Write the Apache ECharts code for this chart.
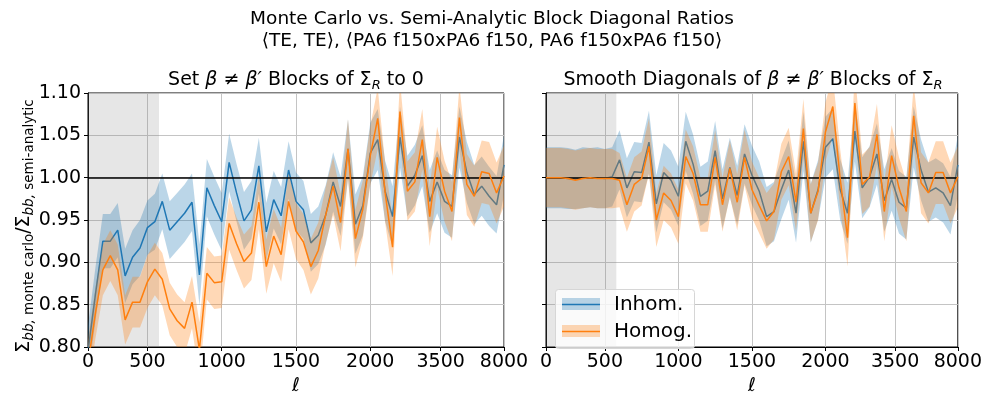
<!DOCTYPE html>
<html>
<head>
<meta charset="utf-8">
<script src="https://cdn.jsdelivr.net/npm/echarts@6/dist/echarts.min.js"></script>
<style>html,body{margin:0;padding:0;background:#fff}#c{width:985px;height:401px}</style>
</head>
<body>
<div id="c"></div>
<script>
// x axis: bin index; tick labels in ell
const tickPositions = [0, 8, 18, 28, 38, 47.47, 56];
const tickLabels = ['0', '500', '1000', '1500', '2000', '3500', '8000'];
const shadeEnd = 9.56;

// Left panel: "Set beta != beta' Blocks of Sigma_R to 0"
const leftInhomMean = [0.795,0.862,0.925,0.925,0.938,0.884,0.906,0.917,0.941,0.948,0.972,0.938,0.948,0.958,0.971,0.885,0.988,0.967,0.948,1.018,0.982,0.949,0.962,1.014,0.936,0.974,0.955,1.009,0.972,0.962,0.923,0.932,0.956,0.995,0.966,1.034,0.945,0.967,1.029,1.045,0.984,0.954,1.048,0.990,1.003,1.026,0.972,0.995,0.972,0.966,1.048,1.006,0.980,0.990,0.978,0.968,1.015];
const leftInhomErr  = [0.030,0.032,0.032,0.032,0.032,0.032,0.032,0.033,0.032,0.033,0.033,0.034,0.034,0.034,0.034,0.036,0.034,0.034,0.034,0.034,0.034,0.034,0.034,0.033,0.034,0.034,0.034,0.034,0.034,0.034,0.034,0.034,0.035,0.035,0.035,0.035,0.035,0.035,0.036,0.036,0.036,0.036,0.036,0.036,0.036,0.036,0.037,0.037,0.037,0.037,0.036,0.036,0.035,0.035,0.035,0.034,0.035];
const leftHomogMean = [0.780,0.840,0.891,0.908,0.891,0.832,0.853,0.853,0.877,0.892,0.880,0.845,0.831,0.822,0.853,0.797,0.887,0.876,0.877,0.946,0.922,0.901,0.911,0.971,0.895,0.931,0.909,0.972,0.937,0.924,0.895,0.914,0.956,0.990,0.947,1.034,0.928,0.963,1.026,1.070,0.982,0.918,1.078,0.984,0.995,1.045,0.954,1.024,0.984,0.960,1.071,0.992,0.978,1.007,1.005,0.982,1.002];
const leftHomogErr  = [0.029,0.030,0.030,0.030,0.030,0.029,0.030,0.030,0.031,0.031,0.031,0.031,0.031,0.031,0.031,0.032,0.031,0.031,0.031,0.031,0.031,0.032,0.032,0.032,0.032,0.032,0.032,0.033,0.033,0.033,0.033,0.033,0.033,0.034,0.034,0.035,0.034,0.034,0.035,0.036,0.035,0.034,0.036,0.035,0.035,0.036,0.035,0.036,0.036,0.035,0.037,0.036,0.036,0.037,0.037,0.036,0.036];

// Right panel: "Smooth Diagonals of beta != beta' Blocks of Sigma_R"
const rightInhomMean = [1.000,1.000,1.000,0.999,0.998,1.000,1.000,1.000,0.999,1.001,1.021,0.988,1.007,1.006,1.042,0.969,1.006,0.997,0.978,1.043,1.016,0.978,0.984,1.032,0.975,1.012,0.979,1.028,1.003,0.984,0.954,0.960,0.986,1.009,0.958,1.043,0.958,0.986,1.036,1.046,0.986,0.958,1.055,0.988,1.001,1.028,0.973,0.998,0.971,0.964,1.048,1.009,0.983,0.988,0.982,0.967,1.015];
const rightInhomErr  = [0.036,0.036,0.036,0.036,0.035,0.036,0.035,0.036,0.035,0.035,0.035,0.035,0.035,0.035,0.037,0.034,0.035,0.035,0.035,0.035,0.035,0.035,0.035,0.035,0.035,0.035,0.035,0.035,0.035,0.035,0.035,0.035,0.035,0.035,0.035,0.035,0.035,0.035,0.036,0.036,0.036,0.036,0.036,0.036,0.036,0.036,0.037,0.037,0.037,0.037,0.036,0.036,0.035,0.035,0.035,0.034,0.035];
const rightHomogMean = [1.000,1.000,1.000,0.999,0.997,0.999,1.000,0.999,0.999,0.999,0.997,0.968,0.992,0.999,1.037,0.950,0.982,0.973,0.954,1.025,1.005,0.968,0.968,1.024,0.968,1.011,0.971,1.024,0.986,0.967,0.949,0.960,1.007,1.025,0.971,1.058,0.958,0.984,1.054,1.084,0.999,0.929,1.088,0.992,1.001,1.051,0.960,1.026,0.988,0.960,1.073,0.994,0.982,1.006,1.006,0.982,1.001];
const rightHomogErr  = [0.035,0.035,0.035,0.035,0.035,0.035,0.035,0.035,0.035,0.035,0.032,0.032,0.032,0.032,0.033,0.032,0.032,0.032,0.032,0.032,0.032,0.032,0.032,0.032,0.032,0.033,0.033,0.033,0.033,0.033,0.033,0.033,0.033,0.034,0.034,0.035,0.034,0.034,0.035,0.036,0.035,0.034,0.036,0.035,0.035,0.036,0.035,0.036,0.036,0.035,0.037,0.036,0.036,0.037,0.037,0.036,0.036];

const seriesNames = ['Inhom.', 'Homog.'];
const BLUE = '#1f77b4', ORANGE = '#ff7f0e';
const BLUE_FILL = 'rgba(31,119,180,0.3)', ORANGE_FILL = 'rgba(255,127,14,0.3)';
const FONT = 'DejaVu Sans';
const FS = 19;

function bandSeries(gi, mean, err, fill, z) {
  const lo = mean.map((m, i) => m - err[i]);
  const hi = mean.map((m, i) => m + err[i]);
  return {
    type: 'custom', xAxisIndex: gi, yAxisIndex: gi, silent: true, z: z,
    data: mean.map((m, i) => [i, lo[i], hi[i]]),
    encode: { x: 0, y: [1, 2] },
    renderItem: function (params, api) {
      if (params.dataIndex !== 0) return null;
      const pts = [];
      for (let i = 0; i < lo.length; i++) pts.push(api.coord([i, lo[i]]));
      for (let i = hi.length - 1; i >= 0; i--) pts.push(api.coord([i, hi[i]]));
      const cs = params.coordSys;
      return {
        type: 'polygon', shape: { points: pts }, style: { fill: fill, stroke: null },
        clipPath: { type: 'rect', shape: { x: cs.x, y: cs.y, width: cs.width, height: cs.height } }
      };
    }
  };
}
function lineSeries(gi, name, mean, color, z) {
  return {
    type: 'line', name: name, xAxisIndex: gi, yAxisIndex: gi, symbol: 'none', silent: true, z: z,
    lineStyle: { color: color, width: 1.5 }, itemStyle: { color: color },
    data: mean.map((m, i) => [i, m])
  };
}
function shadeSeries(gi) {
  return {
    type: 'line', xAxisIndex: gi, yAxisIndex: gi, data: [], silent: true, z: 1,
    markArea: { silent: true, itemStyle: { color: 'rgba(128,128,128,0.2)' }, data: [[{ xAxis: 0 }, { xAxis: shadeEnd }]] }
  };
}
function refLineSeries(gi) {
  return {
    type: 'line', xAxisIndex: gi, yAxisIndex: gi, data: [], silent: true, z: 6,
    markLine: { silent: true, symbol: 'none', label: { show: false }, animation: false,
      lineStyle: { color: '#000', width: 1.5, type: 'solid' }, data: [{ yAxis: 1 }] }
  };
}

function mkX(gi) {
  return {
    type: 'value', gridIndex: gi, min: 0, max: 56,
    axisLine: { show: true, onZero: false, lineStyle: { color: '#000', width: 1 } },
    axisTick: { show: true, customValues: tickPositions, length: 4, lineStyle: { color: '#000' } },
    axisLabel: { customValues: tickPositions, color: '#000', fontSize: FS, fontFamily: FONT, margin: 6,
      formatter: v => tickLabels[tickPositions.indexOf(v)] },
    splitLine: { show: true, lineStyle: { color: '#c4c4c4', width: 1 } },
    name: 'ℓ', nameLocation: 'middle', nameGap: 30,
    nameTextStyle: { fontStyle: 'italic', fontSize: FS, color: '#000', fontFamily: FONT }
  };
}
function mkY(gi, showLabels) {
  return {
    type: 'value', gridIndex: gi, min: 0.8, max: 1.1, interval: 0.05,
    axisLine: { show: true, lineStyle: { color: '#000', width: 1 } },
    axisTick: { show: true, length: 4, lineStyle: { color: '#000' } },
    axisLabel: { show: showLabels, color: '#000', fontSize: FS, fontFamily: FONT, margin: 7,
      formatter: v => v.toFixed(2) },
    splitLine: { show: true, lineStyle: { color: '#c4c4c4', width: 1 } }
  };
}

const series = [
  shadeSeries(0),
  bandSeries(0, leftInhomMean, leftInhomErr, BLUE_FILL, 2),
  lineSeries(0, seriesNames[0], leftInhomMean, BLUE, 3),
  bandSeries(0, leftHomogMean, leftHomogErr, ORANGE_FILL, 4),
  lineSeries(0, seriesNames[1], leftHomogMean, ORANGE, 5),
  refLineSeries(0),
  shadeSeries(1),
  bandSeries(1, rightInhomMean, rightInhomErr, BLUE_FILL, 2),
  lineSeries(1, seriesNames[0], rightInhomMean, BLUE, 3),
  bandSeries(1, rightHomogMean, rightHomogErr, ORANGE_FILL, 4),
  lineSeries(1, seriesNames[1], rightHomogMean, ORANGE, 5),
  refLineSeries(1)
];

const subSt = {
  n: { fontSize: FS, fontFamily: FONT, color: '#000', lineHeight: 24 },
  i: { fontSize: FS, fontFamily: FONT, fontStyle: 'italic', color: '#000', lineHeight: 24 },
  sub: { fontSize: 13, fontFamily: FONT, fontStyle: 'italic', color: '#000', lineHeight: 14, verticalAlign: 'bottom' }
};

const option = {
  animation: false,
  backgroundColor: '#fff',
  grid: [
    { left: 88, top: 93, width: 416, height: 265, show: true, borderColor: '#000', borderWidth: 1, backgroundColor: 'transparent' },
    { left: 546, top: 93, width: 415, height: 265, show: true, borderColor: '#000', borderWidth: 1, backgroundColor: 'transparent' }
  ],
  xAxis: [mkX(0), mkX(1)],
  yAxis: [mkY(0, true), mkY(1, false)],
  series: series,
  graphic: [
    { type: 'text', x: 492, y: 19, style: { text: 'Monte Carlo vs. Semi-Analytic Block Diagonal Ratios', fontSize: 18.5, fontFamily: FONT, fill: '#000', align: 'center', verticalAlign: 'middle' } },
    { type: 'text', x: 492, y: 41, style: { text: '⟨TE, TE⟩, ⟨PA6 f150xPA6 f150, PA6 f150xPA6 f150⟩', fontSize: 18.5, fontFamily: FONT, fill: '#000', align: 'center', verticalAlign: 'middle' } },
    { type: 'text', x: 296, y: 80, style: { text: '{n|Set }{i|β}{n| ≠ }{i|β′}{n| Blocks of Σ}{sub|R}{n| to 0}', rich: subSt, align: 'center', verticalAlign: 'middle' } },
    { type: 'text', x: 753, y: 80, style: { text: '{n|Smooth Diagonals of }{i|β}{n| ≠ }{i|β′}{n| Blocks of Σ}{sub|R}', rich: subSt, align: 'center', verticalAlign: 'middle' } },
    { type: 'text', x: 24, y: 226, rotation: Math.PI / 2,
      style: { text: '{m|Σ}{s|bb,}{r| monte carlo}{m|/Σ}{s|bb,}{r| semi-analytic}', align: 'center', verticalAlign: 'middle',
        rich: {
          m: { fontSize: 19, fontFamily: FONT, color: '#000', lineHeight: 24 },
          s: { fontSize: 13.5, fontFamily: FONT, fontStyle: 'italic', color: '#000', lineHeight: 14, verticalAlign: 'bottom' },
          r: { fontSize: 13.5, fontFamily: FONT, color: '#000', lineHeight: 14, verticalAlign: 'bottom' }
        } } },
    // legend
    { type: 'rect', shape: { x: 555.5, y: 289.5, width: 139, height: 59, r: 3 }, style: { fill: 'rgba(255,255,255,0.8)', stroke: '#d6d6d6', lineWidth: 1 }, z: 100 },
    { type: 'rect', shape: { x: 562, y: 298, width: 38, height: 12 }, style: { fill: BLUE_FILL }, z: 101 },
    { type: 'line', shape: { x1: 562, y1: 304.5, x2: 600, y2: 304.5 }, style: { stroke: BLUE, lineWidth: 1.5 }, z: 102 },
    { type: 'text', x: 614, y: 304.5, style: { text: seriesNames[0], fontSize: 20, fontFamily: FONT, fill: '#000', verticalAlign: 'middle' }, z: 102 },
    { type: 'rect', shape: { x: 562, y: 325, width: 38, height: 12 }, style: { fill: ORANGE_FILL }, z: 101 },
    { type: 'line', shape: { x1: 562, y1: 331.5, x2: 600, y2: 331.5 }, style: { stroke: ORANGE, lineWidth: 1.5 }, z: 102 },
    { type: 'text', x: 614, y: 331.5, style: { text: seriesNames[1], fontSize: 20, fontFamily: FONT, fill: '#000', verticalAlign: 'middle' }, z: 102 }
  ]
};
const chart = echarts.init(document.getElementById('c'), null, { renderer: 'canvas' });
chart.setOption(option);
</script>
</body>
</html>
